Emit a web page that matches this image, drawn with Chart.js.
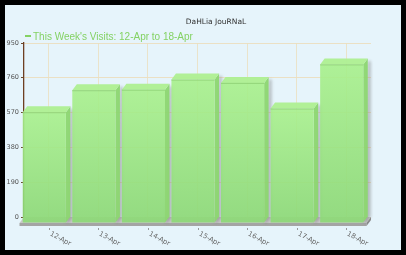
<!DOCTYPE html>
<html>
<head>
<meta charset="utf-8">
<script src="https://cdn.jsdelivr.net/npm/chart.js@4/dist/chart.umd.min.js"></script>
<style>
  html, body { margin: 0; padding: 0; background: #000; }
  #wrap { position: absolute; left: 0; top: 0; width: 406px; height: 255px; }
  canvas { display: block; }
</style>
</head>
<body>
<div id="wrap"><canvas id="c" width="406" height="255"></canvas></div>
<script>
const categories = ['12-Apr', '13-Apr', '14-Apr', '15-Apr', '16-Apr', '17-Apr', '18-Apr'];
const visits = [605, 725, 728, 783, 765, 625, 866];
const yTicks = [0, 190, 380, 570, 760, 950];
const chartTitle = 'DaHLia JouRNaL';
const seriesName = "This Week's Visits: 12-Apr to 18-Apr";

const DX = 4.5, DY = 6;

const bgPlugin = {
  id: 'bg',
  beforeDraw(chart) {
    const ctx = chart.ctx;
    ctx.save();
    ctx.fillStyle = '#000';
    ctx.fillRect(0, 0, chart.width, chart.height);
    ctx.fillStyle = '#e6f4fb';
    ctx.fillRect(5, 5, 396, 245);
    // title
    ctx.fillStyle = '#333';
    ctx.font = '7.5px "DejaVu Sans"';
    ctx.textAlign = 'center';
    ctx.textBaseline = 'middle';
    ctx.fillText(chartTitle, 216, 22);
    // legend
    ctx.strokeStyle = '#84d264';
    ctx.lineWidth = 2;
    ctx.beginPath();
    ctx.moveTo(25, 36); ctx.lineTo(31, 36);
    ctx.stroke();
    ctx.fillStyle = '#84d264';
    ctx.font = '10px "Liberation Sans"';
    ctx.textAlign = 'left';
    ctx.textBaseline = 'alphabetic';
    ctx.fillText(seriesName, 33, 39.5);
    ctx.restore();
  }
};

const bars3d = {
  id: 'bars3d',
  afterDatasetsDraw(chart) {
    const ctx = chart.ctx;
    const xs = chart.scales.x, ys = chart.scales.y;
    const area = chart.chartArea;
    const base = ys.getPixelForValue(0);
    ctx.save();
    // floor
    const fl = area.left, fr = area.right;
    ctx.fillStyle = '#c8c8c8';
    ctx.beginPath();
    ctx.moveTo(fl, base);
    ctx.lineTo(fr, base);
    ctx.lineTo(fr - DX, base + DY);
    ctx.lineTo(fl - DX, base + DY);
    ctx.closePath();
    ctx.fill();
    ctx.fillStyle = '#a4a4a4';
    ctx.fillRect(fl - DX, base + DY, fr - fl, 3);
    ctx.beginPath();
    ctx.moveTo(fr, base);
    ctx.lineTo(fr, base + 3);
    ctx.lineTo(fr - DX, base + DY + 3);
    ctx.lineTo(fr - DX, base + DY);
    ctx.closePath();
    ctx.fillStyle = '#8a8a8a';
    ctx.fill();

    // bars
    const meta = chart.getDatasetMeta(0);
    meta.data.forEach((bar) => {
      const p = bar.getProps(['x', 'y', 'base', 'width'], true);
      const xl = p.x - p.width / 2, xr = p.x + p.width / 2;
      const yt = p.y, yb = p.base;
      // shadow
      ctx.save();
      ctx.fillStyle = 'rgba(120,120,120,0.45)';
      ctx.filter = 'blur(1.5px)';
      ctx.beginPath();
      ctx.moveTo(xr, yt + 2);
      ctx.lineTo(xr + 3, yt + 3);
      ctx.lineTo(xr + 3, yb);
      ctx.lineTo(xr - DX + 3, yb + DY);
      ctx.lineTo(xr - DX, yb + DY);
      ctx.closePath();
      ctx.fill();
      ctx.restore();
      // side face
      ctx.fillStyle = 'rgba(140,214,112,0.95)';
      ctx.beginPath();
      ctx.moveTo(xr - DX, yt + DY);
      ctx.lineTo(xr, yt);
      ctx.lineTo(xr, yb);
      ctx.lineTo(xr - DX, yb + DY);
      ctx.closePath();
      ctx.fill();
      // front face
      const g = ctx.createLinearGradient(0, yt + DY, 0, yb + DY);
      g.addColorStop(0, 'rgba(168,240,140,0.9)');
      g.addColorStop(1, 'rgba(140,216,118,0.92)');
      ctx.fillStyle = g;
      ctx.fillRect(xl - DX, yt + DY, xr - xl, yb - yt);
      // top face
      ctx.fillStyle = 'rgba(174,240,148,0.97)';
      ctx.beginPath();
      ctx.moveTo(xl - DX, yt + DY);
      ctx.lineTo(xr - DX, yt + DY);
      ctx.lineTo(xr, yt);
      ctx.lineTo(xl, yt);
      ctx.closePath();
      ctx.fill();
      ctx.strokeStyle = 'rgba(140,205,115,0.8)';
      ctx.lineWidth = 1;
      ctx.beginPath();
      ctx.moveTo(xl - DX, yt + DY + 0.5);
      ctx.lineTo(xr - DX, yt + DY + 0.5);
      ctx.stroke();
    });

    // x ticks and labels
    ctx.fillStyle = '#666';
    ctx.strokeStyle = '#999';
    ctx.lineWidth = 1;
    ctx.font = '6.8px "DejaVu Sans"';
    ctx.textAlign = 'left';
    ctx.textBaseline = 'top';
    categories.forEach((lab, i) => {
      const x = Math.round(xs.getPixelForTick(i)) + 0.5;
      ctx.beginPath();
      ctx.moveTo(x, base + 11);
      ctx.lineTo(x, base + 13);
      ctx.stroke();
      ctx.save();
      ctx.translate(x + 2.5, base + 13.5);
      ctx.rotate(28 * Math.PI / 180);
      ctx.fillText(lab, 0, 0);
      ctx.restore();
    });
    ctx.restore();
  }
};

new Chart(document.getElementById('c'), {
  type: 'bar',
  data: {
    labels: categories,
    datasets: [{
      label: seriesName,
      data: visits,
      backgroundColor: 'rgba(0,0,0,0)',
      borderWidth: 0,
      categoryPercentage: 1,
      barPercentage: 0.87
    }]
  },
  options: {
    responsive: false,
    animation: false,
    events: [],
    layout: { padding: { left: 4, right: 35, top: 43, bottom: 38 } },
    plugins: { legend: { display: false }, title: { display: false }, tooltip: { enabled: false } },
    scales: {
      x: {
        grid: { offset: false, color: 'rgba(235,222,190,0.8)', drawTicks: false },
        border: { display: false },
        ticks: { display: false },
        afterFit(s) { s.height = 0; }
      },
      y: {
        min: 0, max: 950,
        afterBuildTicks(s) { s.ticks = yTicks.map(v => ({ value: v })); },
        grid: { color: 'rgba(235,222,190,0.9)', tickLength: 3, tickColor: '#6b4a2e' },
        border: { display: true, color: '#6e3f22', width: 1.3 },
        ticks: { color: '#555', font: { family: 'DejaVu Sans', size: 6.5 }, padding: 2 },
        afterFit(s) { s.width = 20; }
      }
    }
  },
  plugins: [bgPlugin, bars3d]
});
</script>
</body>
</html>
